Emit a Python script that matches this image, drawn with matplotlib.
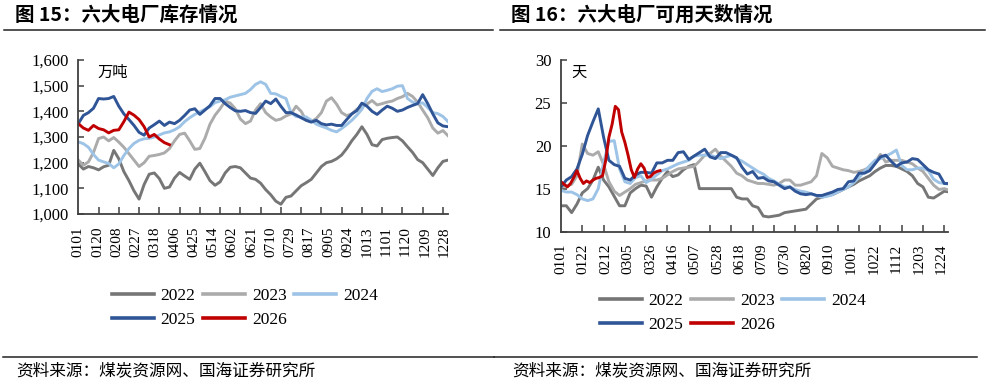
import numpy as np
import pandas as pd
import matplotlib
matplotlib.use("Agg")
import matplotlib.pyplot as plt
from matplotlib.ticker import FuncFormatter, MultipleLocator, FixedLocator
from matplotlib.lines import Line2D
from matplotlib.font_manager import FontProperties

# ---------------- data ----------------
years = ["2022", "2023", "2024", "2025", "2026"]
colors = ["#767676", "#ababab", "#9dc3e6", "#2f5597", "#c00000"]

# sampled every 5 days from 01-01 (day-of-year index)
sample_step = 5
sample_step_2026_right = 3

# Figure 15: inventory of six major power plants (10k tonnes)
inv_2022 = [1195, 1175, 1185, 1180, 1172, 1184, 1190, 1248, 1215, 1165,
            1130, 1090, 1058, 1115, 1155, 1160, 1138, 1100, 1105, 1140,
            1162, 1148, 1135, 1175, 1198, 1165, 1130, 1112, 1125, 1160,
            1182, 1185, 1180, 1160, 1140, 1135, 1120, 1095, 1075, 1050,
            1038, 1065, 1070, 1090, 1110, 1122, 1135, 1160, 1185, 1200,
            1205, 1215, 1230, 1255, 1285, 1310, 1340, 1310, 1270, 1265,
            1290, 1295, 1298, 1300, 1285, 1262, 1240, 1212, 1200, 1175,
            1150, 1180, 1205, 1210]
inv_2023 = [1210, 1190, 1203, 1240, 1294, 1300, 1285, 1298, 1280, 1260,
            1235, 1210, 1185, 1200, 1225, 1228, 1232, 1238, 1255, 1285,
            1310, 1315, 1285, 1252, 1255, 1295, 1350, 1385, 1410, 1440,
            1432, 1410, 1370, 1352, 1362, 1405, 1430, 1395, 1378, 1365,
            1370, 1382, 1390, 1420, 1400, 1365, 1360, 1372, 1395, 1440,
            1453, 1428, 1395, 1383, 1390, 1408, 1417, 1428, 1442, 1425,
            1430, 1436, 1440, 1450, 1457, 1470, 1458, 1436, 1405, 1375,
            1335, 1315, 1325, 1305]
inv_2024 = [1281, 1274, 1260, 1232, 1210, 1203, 1197, 1180, 1195, 1228,
            1255, 1275, 1287, 1293, 1295, 1300, 1308, 1316, 1320, 1328,
            1340, 1360, 1375, 1388, 1398, 1408, 1418, 1434, 1440, 1445,
            1455, 1460, 1465, 1470, 1485, 1505, 1515, 1505, 1470, 1468,
            1458, 1450, 1395, 1380, 1378, 1378, 1365, 1350, 1342, 1335,
            1326, 1320, 1333, 1348, 1365, 1385, 1408, 1450, 1478, 1488,
            1477, 1482, 1488, 1498, 1500, 1450, 1436, 1430, 1433, 1415,
            1395, 1391, 1380, 1360]
inv_2025 = [1352, 1384, 1395, 1412, 1450, 1448, 1450, 1458, 1420, 1390,
            1368, 1345, 1318, 1307, 1335, 1348, 1362, 1345, 1358, 1352,
            1365, 1384, 1405, 1410, 1388, 1405, 1422, 1450, 1450, 1430,
            1415, 1402, 1400, 1403, 1395, 1392, 1415, 1440, 1430, 1448,
            1420, 1395, 1395, 1386, 1375, 1365, 1358, 1365, 1352, 1347,
            1350, 1345, 1345, 1368, 1390, 1403, 1432, 1420, 1400, 1388,
            1405, 1420, 1412, 1400, 1405, 1415, 1423, 1430, 1465, 1430,
            1390, 1355, 1343, 1340]
inv_2026 = [1352, 1335, 1326, 1345, 1333, 1328, 1316, 1326, 1328, 1360,
            1397, 1385, 1368, 1340, 1300, 1310, 1292, 1278, 1270]

# Figure 16: available days of six major power plants
days_2022 = [13.0, 13.0, 12.2, 13.2, 14.5, 15.0, 16.0, 17.5, 16.0, 15.2,
             14.1, 13.0, 13.0, 14.5, 15.0, 15.4, 15.3, 14.0, 15.2, 16.2,
             17.0, 16.4, 16.6, 17.2, 17.6, 17.8, 15.0, 15.0, 15.0, 15.0,
             15.0, 15.0, 15.0, 14.0, 13.8, 13.8, 13.0, 12.8, 11.8, 11.7,
             11.8, 11.9, 12.2, 12.3, 12.4, 12.5, 12.6, 13.2, 13.8, 14.0,
             14.2, 14.3, 14.6, 14.9, 15.2, 15.5, 15.9, 16.2, 16.5, 17.0,
             17.4, 17.7, 17.7, 17.6, 17.3, 17.0, 16.5, 15.6, 15.2, 14.0,
             13.9, 14.3, 14.7, 14.6]
days_2023 = [15.2, 15.3, 15.5, 16.5, 20.2, 19.1, 18.9, 19.3, 17.8, 15.8,
             14.7, 14.2, 14.6, 15.0, 15.5, 15.7, 15.9, 16.0, 16.0, 16.2,
             16.6, 17.0, 17.3, 17.4, 17.5, 17.6, 18.2, 18.9, 19.1, 19.6,
             18.8, 18.2, 17.6, 16.8, 16.5, 16.0, 15.8, 15.6, 15.6, 15.5,
             15.4, 15.6, 16.0, 16.0, 15.4, 15.4, 15.6, 15.8, 16.5, 19.1,
             18.6, 17.6, 17.4, 17.2, 17.1, 16.9, 17.0, 17.2, 17.5, 18.0,
             19.0, 18.1, 18.3, 18.3, 18.3, 18.1, 17.9, 17.4, 17.0, 16.2,
             15.4, 14.9, 15.0, 14.8]
days_2024 = [14.8, 14.6, 14.6, 14.3, 13.8, 13.6, 13.8, 15.0, 18.0, 20.5,
             20.6, 17.3, 15.8, 15.6, 16.3, 16.5, 15.7, 16.1, 16.6, 17.1,
             17.3, 17.6, 17.9, 18.1, 18.3, 18.8, 18.9, 18.9, 18.9, 18.7,
             18.5, 18.7, 18.9, 18.5, 18.2, 17.8, 17.4, 17.0, 16.7, 16.2,
             15.9, 15.5, 15.2, 15.2, 14.9, 14.7, 14.6, 14.4, 14.2, 14.0,
             14.1, 14.3, 14.6, 14.9, 15.2, 15.7, 16.3, 17.0, 17.7, 18.3,
             18.5, 18.8, 19.1, 19.5, 17.7, 17.2, 17.2, 17.4, 17.4, 17.1,
             16.1, 15.7, 15.6, 15.5]
days_2025 = [15.2, 16.0, 16.4, 17.3, 19.0, 21.2, 22.8, 24.3, 21.0, 18.3,
             17.8, 17.6, 16.2, 16.0, 16.6, 16.9, 16.9, 16.8, 18.0, 18.0,
             18.3, 18.3, 19.2, 19.3, 18.4, 18.8, 19.2, 19.6, 18.7, 18.5,
             19.2, 19.2, 18.9, 18.6, 17.5, 16.7, 17.0, 16.2, 16.3, 15.9,
             15.8, 15.4, 15.0, 15.2, 14.7, 14.4, 14.3, 14.4, 14.2, 14.2,
             14.4, 14.6, 14.9, 15.0, 15.8, 15.9, 16.8, 16.8, 17.1, 17.9,
             18.7, 18.9, 18.2, 17.6, 18.0, 18.1, 18.5, 18.4, 17.8, 17.2,
             16.9, 16.7, 15.6, 15.6]
days_2026 = [15.8, 15.5, 15.2, 15.6, 16.3, 17.1, 16.2, 15.6, 15.9, 15.7,
             16.0, 16.2, 16.3, 16.5, 18.3, 21.0, 22.5, 24.6, 24.2, 21.6,
             20.4, 18.9, 17.2, 16.3, 17.3, 17.9, 17.4, 16.3, 16.4, 16.8,
             17.0, 17.1]

labels_left = ["0101", "0120", "0208", "0227", "0318", "0406", "0425", "0514",
               "0602", "0621", "0710", "0729", "0817", "0905", "0924", "1013",
               "1101", "1120", "1209", "1228"]
labels_right = ["0101", "0122", "0212", "0305", "0326", "0416", "0507", "0528",
                "0618", "0709", "0730", "0820", "0910", "1001", "1022", "1112",
                "1203", "1224"]

left_series = [inv_2022, inv_2023, inv_2024, inv_2025, inv_2026]
right_series = [days_2022, days_2023, days_2024, days_2025, days_2026]


def doy(lbls):
    return [pd.Timestamp("2023-" + s[:2] + "-" + s[2:]).dayofyear - 1 for s in lbls]


# ---------------- style ----------------
SERIF = "Liberation Serif"
CJK = ["Noto Sans CJK SC", "DejaVu Sans"]
plt.rcParams["font.family"] = [SERIF, "Noto Sans CJK SC"]
W, H = 988, 390
fig = plt.figure(figsize=(W / 100, H / 100), dpi=100)

ax1 = fig.add_axes([78.3 / W, 1 - 214 / H, (448 - 78.3) / W, 154 / H])
ax2 = fig.add_axes([561 / W, 1 - 231.5 / H, 387 / W, 171.5 / H])

axis_col = "#404040"
for ax in (ax1, ax2):
    for s in ("top", "right"):
        ax.spines[s].set_visible(False)
    for s in ("left", "bottom"):
        ax.spines[s].set_color(axis_col)
        ax.spines[s].set_linewidth(1.3)
    ax.tick_params(axis="y", direction="in", length=4.5, width=1.1, color=axis_col,
                   labelsize=12, pad=7, labelcolor="black")
    ax.tick_params(axis="x", which="major", length=0, labelsize=11, pad=9,
                   labelrotation=90)
    ax.xaxis.set_minor_locator(MultipleLocator(20))
    ax.tick_params(axis="x", which="minor", direction="in", length=5, width=1.1,
                   color=axis_col)
    ax.patch.set_alpha(0)

# left panel
for vals, c in zip(left_series, colors):
    x = np.arange(len(vals)) * sample_step
    ax1.plot(x, vals, color=c, lw=2.1, solid_joinstyle="round")
ax1.set_xlim(0, 365)
ax1.set_ylim(1000, 1600)
ax1.yaxis.set_major_locator(MultipleLocator(100))
ax1.yaxis.set_major_formatter(FuncFormatter(lambda v, p: f"{int(v):,}"))
ax1.xaxis.set_major_locator(FixedLocator(doy(labels_left)))
ax1.set_xticklabels(labels_left)
ax1.text(0.052, 0.92, "万吨", transform=ax1.transAxes, fontsize=11,
         family=CJK, va="center", ha="left")

# right panel
for i, (vals, c) in enumerate(zip(right_series, colors)):
    step = sample_step_2026_right if years[i] == "2026" else sample_step
    x = np.arange(len(vals)) * step
    ax2.plot(x, vals, color=c, lw=2.1, solid_joinstyle="round")
ax2.set_xlim(0, 363.5)
ax2.set_ylim(10, 30)
ax2.yaxis.set_major_locator(MultipleLocator(5))
ax2.xaxis.set_major_locator(FixedLocator(doy(labels_right)))
ax2.set_xticklabels(labels_right)
ax2.text(0.028, 0.93, "天", transform=ax2.transAxes, fontsize=11,
         family=CJK, va="center", ha="left")

for lab in ax1.get_xticklabels() + ax2.get_xticklabels():
    lab.set_va("top")
    lab.set_ha("center")

# legends
order = [0, 3, 1, 4, 2]
leg_prop = FontProperties(family=SERIF, size=12.5)
for ax, cx, cy in ((ax1, 245 / W, 1 - 308 / H), (ax2, 733 / W, 1 - 313 / H)):
    handles = [Line2D([], [], color=colors[i], lw=2.6) for i in order]
    ax.legend(handles, [years[i] for i in order], loc="center",
              bbox_to_anchor=(cx, cy), bbox_transform=fig.transFigure,
              ncol=3, frameon=False, prop=leg_prop, handlelength=2.4,
              handletextpad=0.4, columnspacing=0.45, labelspacing=0.45,
              borderpad=0, borderaxespad=0)

# titles, rules, sources
fig.text(15 / W, 1 - 15 / H, "图 15：六大电厂库存情况", fontsize=14,
         fontweight="bold", family=CJK, va="center", ha="left")
fig.text(511 / W, 1 - 15 / H, "图 16：六大电厂可用天数情况", fontsize=14,
         fontweight="bold", family=CJK, va="center", ha="left")
for x0, x1 in ((4, 493), (500, 985)):
    fig.add_artist(Line2D([x0 / W, x1 / W], [1 - 29.5 / H] * 2, color="#222222", lw=1.1))
for x0, x1 in ((3, 494), (494, 977)):
    fig.add_artist(Line2D([x0 / W, x1 / W], [1 - 357 / H] * 2, color="#222222", lw=1.1))
fig.text(16 / W, 1 - 371 / H, "资料来源：煤炭资源网、国海证券研究所", fontsize=12,
         family=CJK, va="center", ha="left")
fig.text(512 / W, 1 - 371 / H, "资料来源：煤炭资源网、国海证券研究所", fontsize=12,
         family=CJK, va="center", ha="left")

fig.savefig("out.png", dpi=100)
